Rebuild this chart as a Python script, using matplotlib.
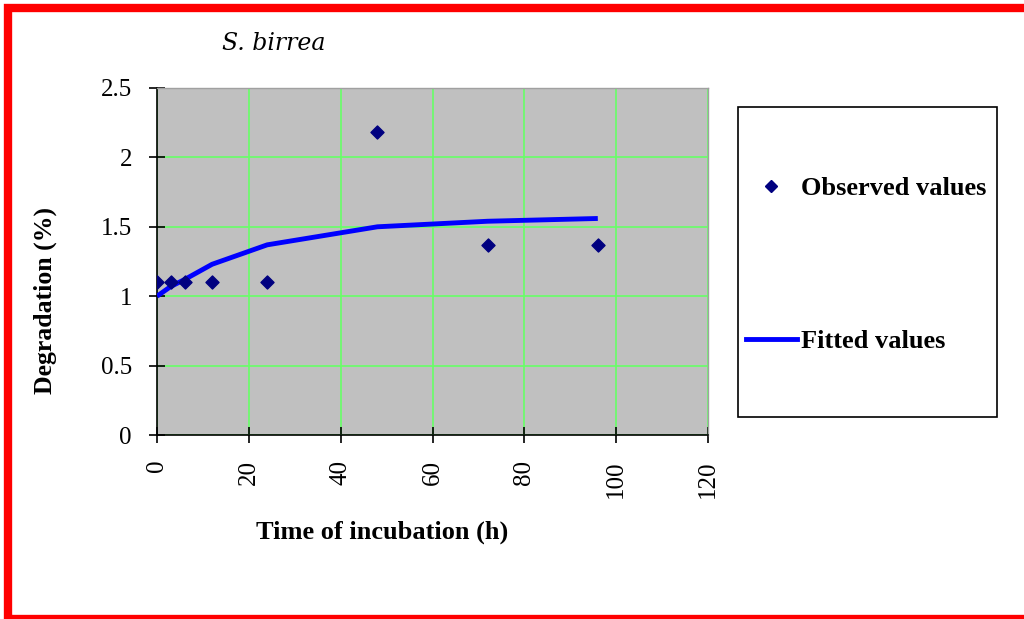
import matplotlib.pyplot as plt
from matplotlib.lines import Line2D
from matplotlib.patches import Rectangle

# data
time_obs = [0, 3, 6, 12, 24, 48, 72, 96]
deg_obs = [1.10, 1.10, 1.10, 1.10, 1.10, 2.18, 1.37, 1.37]
time_fit = [0, 3, 6, 12, 24, 48, 72, 96]
deg_fit = [1.00, 1.07, 1.12, 1.23, 1.37, 1.50, 1.54, 1.56]

x_ticks = [0, 20, 40, 60, 80, 100, 120]
y_ticks = [0, 0.5, 1, 1.5, 2, 2.5]

plt.rcParams['font.family'] = ['Liberation Serif', 'DejaVu Serif']

W, H = 1024, 619
fig = plt.figure(figsize=(W / 100, H / 100), dpi=100)
fig.patch.set_facecolor('white')

# red frame around the picture
fig.patches.append(Rectangle((8 / W, 0), 1022 / W, 611 / H, transform=fig.transFigure,
                             fill=False, edgecolor='#ff0000', lw=6, clip_on=False))

ax = fig.add_axes([157 / W, (H - 435) / H, 551 / W, 347 / H])
ax.set_facecolor('#c0c0c0')

ax.plot(time_fit, deg_fit, color='#0000ff', lw=3.5, solid_capstyle='butt', zorder=3)
ax.scatter(time_obs, deg_obs, marker='D', s=44, color='#000080', zorder=4)

ax.set_xlim(0, 120)
ax.set_ylim(0, 2.5)
ax.set_xticks(x_ticks)
ax.set_yticks(y_ticks)
ax.set_yticklabels(['0', '0.5', '1', '1.5', '2', '2.5'])
ax.grid(True, color='#66ff66', lw=1.2)
ax.set_axisbelow(True)

for s in ['top', 'right']:
    ax.spines[s].set_color('#a0a0a0')
    ax.spines[s].set_linewidth(1)
for s in ['left', 'bottom']:
    ax.spines[s].set_color('black')
    ax.spines[s].set_linewidth(1.2)

ax.tick_params(axis='both', direction='inout', length=12, width=1.2, labelsize=18, colors='black')
ax.tick_params(axis='x', pad=12, labelrotation=90)
ax.tick_params(axis='y', pad=12)

ax.set_xlabel('Time of incubation (h)', fontsize=19, fontweight='bold')
ax.set_ylabel('Degradation (%)', fontsize=18.5, fontweight='bold')
ax.xaxis.set_label_coords(0.408, -0.248)
ax.yaxis.set_label_coords(-0.181, 0.389)

fig.text(222 / W, 1 - 43 / H, 'S. birrea', fontsize=17, style='italic', va='center', ha='left',
         family='DejaVu Serif')

# legend box
fig.patches.append(Rectangle((738 / W, (H - 417) / H), 259 / W, 310 / H, transform=fig.transFigure,
                             fill=False, edgecolor='black', lw=1.2))
handles = [Line2D([], [], marker='D', ls='none', color='#000080', markersize=6.5),
           Line2D([], [], color='#0000ff', lw=3.5)]
fig.legend(handles, ['Observed values', 'Fitted values'], loc='upper left',
           bbox_to_anchor=(746 / W, 1 - 177 / H), frameon=False,
           prop={'weight': 'bold', 'size': 19}, handlelength=1.93, handletextpad=0.15,
           labelspacing=4.9, borderpad=0, borderaxespad=0)

fig.savefig('out.png', dpi=100)
